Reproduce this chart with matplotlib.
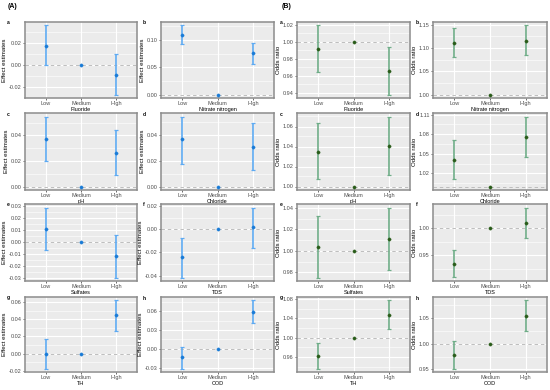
import matplotlib
matplotlib.use("Agg")
import matplotlib.pyplot as plt
from matplotlib.ticker import FixedLocator, MultipleLocator

plt.rcParams['font.family'] = ['Liberation Sans', 'DejaVu Sans']
plt.rcParams['axes.unicode_minus'] = False

# ---------------- data ----------------
levels = ["Low", "Medium", "High"]
variables = ["Fluoride", "Nitrate nitrogen", "pH", "Chloride",
             "Sulfates", "TDS", "TH", "COD"]
letters = ["a", "b", "c", "d", "e", "f", "g", "h"]

# (A) effect estimates: Low, Medium, High
eff_est = [
    [0.0175, 0.0, -0.0089],
    [0.1090, 0.0, 0.0755],
    [0.0373, 0.0, 0.0266],
    [0.0364, 0.0, 0.0309],
    [0.0109, 0.0, -0.0124],
    [-0.0243, 0.0, 0.0017],
    [0.0000, 0.0, 0.0446],
    [-0.0133, 0.0, 0.0590],
]
eff_lo = [
    [0.0000, None, -0.0267],
    [0.0917, None, 0.0567],
    [0.0197, None, 0.0087],
    [0.0172, None, 0.0125],
    [-0.0067, None, -0.0300],
    [-0.0417, None, -0.0160],
    [-0.0173, None, 0.0268],
    [-0.0312, None, 0.0415],
]
eff_hi = [
    [0.0356, None, 0.0095],
    [0.1264, None, 0.0935],
    [0.0549, None, 0.0447],
    [0.0541, None, 0.0494],
    [0.0286, None, 0.0059],
    [-0.0073, None, 0.0189],
    [0.0174, None, 0.0619],
    [0.0037, None, 0.0769],
]
eff_ticks = [
    [-0.02, 0.00, 0.02],
    [0.00, 0.05, 0.10],
    [0.00, 0.02, 0.04],
    [0.00, 0.02, 0.04],
    [-0.03, -0.02, -0.01, 0.00, 0.01, 0.02, 0.03],
    [-0.04, -0.02, 0.00, 0.02],
    [-0.02, 0.00, 0.02, 0.04, 0.06],
    [-0.03, 0.00, 0.03, 0.06],
]

# (B) odds ratios: Low, Medium, High
or_est = [
    [0.9911, 1.0, 0.9662],
    [1.1105, 1.0, 1.1147],
    [1.0350, 1.0, 1.0410],
    [1.0404, 1.0, 1.0761],
    [1.0034, 1.0, 1.0109],
    [0.9346, 1.0, 1.0105],
    [0.9630, 1.0, 1.0473],
    [0.9784, 1.0, 1.0544],
]
or_lo = [
    [0.9643, None, 0.9381],
    [1.0796, None, 1.0840],
    [1.0071, None, 1.0117],
    [1.0108, None, 1.0450],
    [0.9752, None, 0.9820],
    [0.9087, None, 0.9815],
    [0.9360, None, 1.0182],
    [0.9517, None, 1.0253],
]
or_hi = [
    [1.0192, None, 0.9939],
    [1.1420, None, 1.1480],
    [1.0640, None, 1.0700],
    [1.0713, None, 1.1070],
    [1.0326, None, 1.0404],
    [0.9600, None, 1.0383],
    [0.9893, None, 1.0773],
    [1.0050, None, 1.0848],
]
or_ticks = [
    [0.94, 0.96, 0.98, 1.00, 1.02],
    [1.00, 1.05, 1.10, 1.15],
    [1.00, 1.02, 1.04, 1.06],
    [1.02, 1.05, 1.08, 1.11],
    [0.98, 1.00, 1.02, 1.04],
    [0.95, 1.00],
    [0.96, 1.00, 1.04, 1.08],
    [0.95, 1.00, 1.05],
]

# ---------------- style / layout ----------------
W, H = 550, 390
fig = plt.figure(figsize=(W / 100, H / 100), dpi=100)

cols_left = [25, 161, 297, 433]
cols_right = [137, 274, 410, 547]
rows_top = [22, 113, 204, 297]
rows_bottom = [98, 190, 281, 372]
letter_x = [8, 144, 281, 417]

BLUE_BAR, BLUE_PT = "#5eaaf2", "#1a7bd6"
GREEN_BAR, GREEN_PT = "#6fad88", "#2a5c1a"

TICK_FS = 4.0
XT_FS = 4.0
YT_FS = 4.4


def panel(col, row, est, lo, hi, ticks, ref, ylabel, xlabel, letter, bar_c, pt_c):
    l, r = cols_left[col], cols_right[col]
    t, b = rows_top[row], rows_bottom[row]
    ax = fig.add_axes([l / W, 1 - b / H, (r - l) / W, (b - t) / H])
    ax.set_facecolor("#ebebeb")
    x = [1, 2, 3]
    ax.axhline(ref, color="#bdbdbd", lw=0.7, ls=(0, (3.5, 3)), zorder=2)
    for xi, e, a, c in zip(x, est, lo, hi):
        if a is not None:
            ax.errorbar([xi], [e], yerr=[[e - a], [c - e]], fmt="none",
                        ecolor=bar_c, elinewidth=1.2, capsize=1.6,
                        capthick=0.9, zorder=3)
        ax.plot([xi], [e], "o", ms=2.4, color=pt_c, mec=pt_c, mew=0.2, zorder=4)
    ax.set_xlim(0.4, 3.6)
    ax.margins(y=0.05)
    ax.set_xticks(x)
    ax.set_xticklabels(levels)
    ax.yaxis.set_major_locator(FixedLocator(ticks))
    ax.set_yticklabels([f"{v:.2f}" for v in ticks])
    step = ticks[1] - ticks[0]
    ax.yaxis.set_minor_locator(MultipleLocator(step / 2))
    ax.grid(True, which="major", color="white", lw=0.8, zorder=0)
    ax.grid(True, which="minor", axis="y", color="white", lw=0.4, zorder=0)
    ax.set_axisbelow(True)
    ax.tick_params(which="major", length=1.3, width=0.5, color="#333333",
                   labelsize=TICK_FS, labelcolor="#4d4d4d", pad=1)
    ax.tick_params(which="minor", length=0)
    for s in ax.spines.values():
        s.set_color("#8c8c8c")
        s.set_linewidth(1.1)
    ax.set_xlabel(xlabel, fontsize=XT_FS, labelpad=0.3)
    ax.set_ylabel(ylabel, fontsize=YT_FS, labelpad=1.5)
    fig.text(letter_x[col] / W, 1 - (t + 1) / H, letter, fontsize=3.6,
             fontweight="bold", ha="center", va="center")
    return ax


for i in range(8):
    row, c = divmod(i, 2)
    panel(c, row, eff_est[i], eff_lo[i], eff_hi[i], eff_ticks[i], 0.0,
          "Effect estimates", variables[i], letters[i], BLUE_BAR, BLUE_PT)
    panel(c + 2, row, or_est[i], or_lo[i], or_hi[i], or_ticks[i], 1.0,
          "Odds ratio", variables[i], letters[i], GREEN_BAR, GREEN_PT)

fig.text(12 / W, 1 - 7 / H, "(A)", fontsize=5, fontweight="bold",
         ha="center", va="center")
fig.text(287 / W, 1 - 7 / H, "(B)", fontsize=5, fontweight="bold",
         ha="center", va="center")

fig.savefig("out.png", dpi=100)
